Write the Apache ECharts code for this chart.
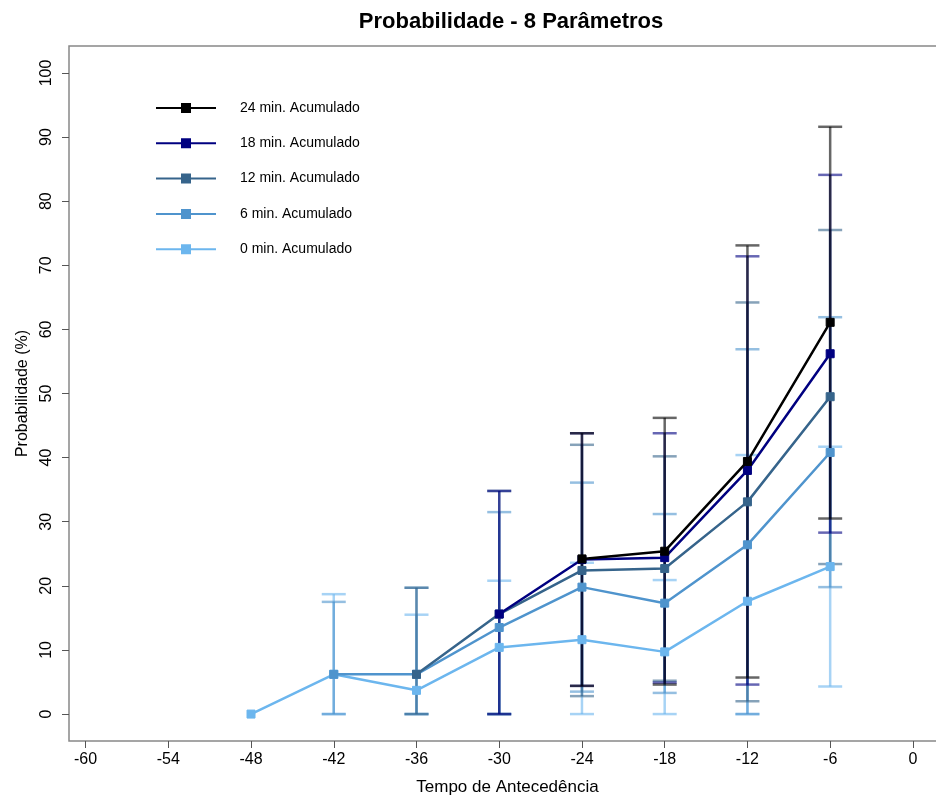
<!DOCTYPE html>
<html><head><meta charset="utf-8">
<script src="https://cdn.jsdelivr.net/npm/echarts@6/dist/echarts.min.js"></script>
<style>html,body{margin:0;padding:0;background:#fff}#c{width:936px;height:796px}</style>
</head><body><div id="c"></div>
<script>
// ---- data ----
const leadTimes = [-48, -42, -36, -30, -24, -18, -12, -6];
const xTicks = [-60, -54, -48, -42, -36, -30, -24, -18, -12, -6, 0];
const yTicks = [0, 10, 20, 30, 40, 50, 60, 70, 80, 90, 100];
const seriesNames = ['0 min. Acumulado', '6 min. Acumulado', '12 min. Acumulado', '18 min. Acumulado', '24 min. Acumulado'];
const mean0  = [0, 6.2, 3.7, 10.4, 11.6, 9.7, 17.6, 23.0];
const upper0 = [null, 18.7, 15.5, 20.8, 23.6, 20.9, 40.4, 41.7];
const lower0 = [null, 0, 0, 0, 0, 0, 0, 4.3];
const mean6  = [null, 6.2, 6.2, 13.5, 19.8, 17.3, 26.4, 40.8];
const upper6 = [null, 17.5, 19.7, 31.5, 36.1, 31.2, 56.9, 61.9];
const lower6 = [null, 0, 0, 0, 3.5, 3.3, 0, 19.8];
const mean12  = [null, null, 6.2, 15.6, 22.4, 22.7, 33.1, 49.5];
const upper12 = [null, null, 19.7, 34.8, 42.0, 40.2, 64.2, 75.5];
const lower12 = [null, null, 0, 0, 2.8, 5.2, 2.0, 23.4];
const mean18  = [null, null, null, 15.6, 24.1, 24.4, 38.0, 56.2];
const upper18 = [null, null, null, 34.8, 43.8, 43.8, 71.4, 84.1];
const lower18 = [null, null, null, 0, 4.4, 4.9, 4.6, 28.3];
const mean24  = [null, null, null, null, 24.2, 25.4, 39.4, 61.1];
const upper24 = [null, null, null, null, 43.8, 46.2, 73.1, 91.6];
const lower24 = [null, null, null, null, 4.4, 4.6, 5.7, 30.5];

const means = [mean0, mean6, mean12, mean18, mean24];
const uppers = [upper0, upper6, upper12, upper18, upper24];
const lowers = [lower0, lower6, lower12, lower18, lower24];
const colors = ['#6cb6ee', '#4f94cd', '#36648b', '#000080', '#000000'];
const barColors = ['rgba(108,182,238,0.6)', 'rgba(79,148,205,0.6)', 'rgba(54,100,139,0.6)', 'rgba(0,0,128,0.6)', 'rgba(0,0,0,0.6)'];

const chart = echarts.init(document.getElementById('c'));
const series = [];
for (let s = 0; s < 5; s++) {
  const eb = [];
  leadTimes.forEach((x, i) => { if (uppers[s][i] != null) eb.push([x, lowers[s][i], uppers[s][i]]); });
  series.push({
    type: 'custom', name: seriesNames[s] + ' eb', z: 2, silent: true,
    encode: { x: 0, y: [1, 2] },
    data: eb,
    renderItem: (params, api) => {
      const x = api.value(0);
      const lo = api.coord([x, api.value(1)]);
      const hi = api.coord([x, api.value(2)]);
      const hw = 12;
      const st = { stroke: barColors[s], lineWidth: 2.5 };
      return { type: 'group', children: [
        { type: 'line', shape: { x1: lo[0], y1: lo[1], x2: hi[0], y2: hi[1] }, style: st },
        { type: 'line', shape: { x1: lo[0] - hw, y1: lo[1], x2: lo[0] + hw, y2: lo[1] }, style: st },
        { type: 'line', shape: { x1: hi[0] - hw, y1: hi[1], x2: hi[0] + hw, y2: hi[1] }, style: st }
      ]};
    }
  });
}
for (let s = 0; s < 5; s++) {
  const d = [];
  leadTimes.forEach((x, i) => { if (means[s][i] != null) d.push([x, means[s][i]]); });
  series.push({
    type: 'line', name: seriesNames[s], z: 3 + s, data: d,
    symbol: 'rect', symbolSize: 8, showSymbol: true,
    lineStyle: { color: colors[s], width: 2.5 },
    itemStyle: { color: colors[s], borderColor: colors[s], borderWidth: 1 },
    emphasis: { disabled: true }, animation: false
  });
}

const axFont = 'Liberation Sans, sans-serif';
chart.setOption({
  animation: false,
  backgroundColor: '#fff',
  title: { text: 'Probabilidade - 8 Parâmetros', left: 506, top: 6, textAlign: 'center',
    textStyle: { fontFamily: 'Liberation Sans, sans-serif', fontWeight: 'bold', fontSize: 22, color: '#000' } },
  legend: {
    data: seriesNames.slice().reverse(), orient: 'vertical', left: 150, top: 96,
    itemWidth: 60, itemHeight: 10, itemGap: 21.3,
    textStyle: { fontFamily: 'Liberation Sans, sans-serif', fontSize: 14, color: '#000', padding: [0, 0, 0, 19] }
  },
  grid: { left: 69, top: 46, width: 877, height: 695, show: true, borderColor: '#888', borderWidth: 1.5,
    containLabel: false, outerBoundsMode: 'none' },
  xAxis: {
    type: 'value', min: -61.2, max: 2.4,
    name: 'Tempo de Antecedência', nameLocation: 'middle', nameGap: 38,
    nameTextStyle: { fontFamily: axFont, fontSize: 17, color: '#000' },
    axisLine: { show: false, onZero: false },
    axisTick: { show: true, length: 7, customValues: xTicks, lineStyle: { color: '#555' } },
    axisLabel: { customValues: xTicks, margin: 11, fontFamily: axFont, fontSize: 16, color: '#000' },
    splitLine: { show: false }
  },
  yAxis: {
    type: 'value', min: -4.2, max: 104.2,
    name: 'Probabilidade (%)', nameLocation: 'middle', nameGap: 38, nameRotate: 90,
    nameTextStyle: { fontFamily: axFont, fontSize: 16, color: '#000' },
    axisLine: { show: false, onZero: false },
    axisTick: { show: true, length: 7, customValues: yTicks, lineStyle: { color: '#555' } },
    axisLabel: { customValues: yTicks, rotate: 90, margin: 14, fontFamily: axFont, fontSize: 16, color: '#000' },
    splitLine: { show: false }
  },
  series: series
});
</script></body></html>
